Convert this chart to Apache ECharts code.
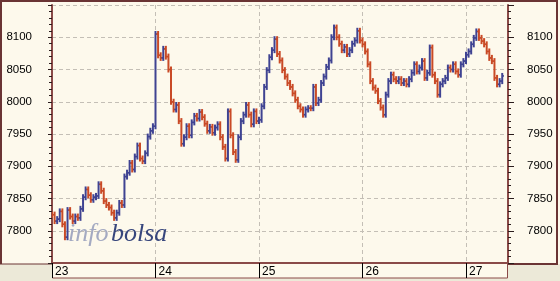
<!DOCTYPE html>
<html><head><meta charset="utf-8">
<script src="https://cdn.jsdelivr.net/npm/echarts@6/dist/echarts.min.js"></script>
<style>html,body{margin:0;padding:0;background:#ece9d8}#c{width:560px;height:281px}</style>
</head><body><div id="c"></div>
<script>
const dayLabels = ['23', '24', '25', '26', '27'];
const yTickLabels = [7800, 7850, 7900, 7950, 8000, 8050, 8100];
const samplesPerDay = 40;
const day23 = [7825,7815,7818,7830,7810,7790,7832,7822,7815,7822,7820,7834,7852,7864,7855,7848,7852,7854,7872,7862,
               7846,7840,7836,7828,7820,7828,7843,7840,7884,7890,7905,7895,7915,7932,7912,7908,7920,7946,7955,7962];
const day24 = [8105,8072,8068,8082,8070,8050,8000,7988,7995,7970,7935,7945,7962,7948,7968,7978,7974,7984,7976,7966,
               7955,7961,7952,7960,7965,7945,7930,7912,7985,7948,7922,7910,7945,7970,7980,7995,7980,7965,7985,7970];
const day25 = [7972,7993,8023,8049,8069,8080,8097,8074,8064,8049,8039,8029,8023,8013,8003,7993,7988,7980,7988,7990,
               7990,8023,7998,8003,8029,8039,8054,8064,8100,8115,8100,8090,8080,8085,8074,8080,8090,8095,8110,8095];
const day26 = [8089,8078,8058,8032,8022,8017,8001,7991,7980,8011,8032,8042,8035,8032,8035,8029,8032,8027,8035,8045,
               8058,8047,8053,8063,8037,8045,8084,8042,8032,8011,8027,8032,8037,8053,8050,8058,8047,8042,8058,8063];
const day27 = [8073,8078,8089,8099,8109,8099,8094,8089,8078,8068,8063,8037,8027,8032,8040];
const allDays = [day23, day24, day25, day26, day27];

const pts = [];
let prev = null;
allDays.forEach((arr, d) => {
  arr.forEach((v, i) => {
    const o = prev === null ? v : prev;
    pts.push([d + i / samplesPerDay, o, v]);
    prev = v;
  });
});

const brown = '#8a4a48';
const gridCol = '#c4bfb6';
const RED = '#c94a26', BLUE = '#3f4392';

const chart = echarts.init(document.getElementById('c'), null, {renderer: 'canvas'});
const yAxisBase = (pos, majorLen) => ({
  type: 'value', position: pos, min: 7750, max: 8150, interval: 50,
  axisLine: {show: true, lineStyle: {color: brown, width: 2}},
  axisTick: {show: true, inside: false, length: majorLen, lineStyle: {color: '#2a1c1c', width: 1}},
  minorTick: {show: true, splitNumber: 5, length: 3, lineStyle: {color: '#2a1c1c', width: 1}},
  axisLabel: {
    margin: pos === 'left' ? 20 : 19,
    color: '#000', fontFamily: 'Liberation Sans', fontSize: 11.5,
    formatter: v => yTickLabels.includes(v) ? String(v) : ''
  },
  splitLine: {show: pos === 'left', lineStyle: {color: gridCol, type: [4, 3], width: 1}}
});

chart.setOption({
  backgroundColor: '#fdf9ec',
  animation: false,
  grid: {left: 52, right: 52, top: 5, bottom: 18, containLabel: false},
  xAxis: {
    type: 'value', min: 0, max: 456 / 103.5, interval: 1,
    axisLine: {show: true, lineStyle: {color: brown, width: 2}},
    axisTick: {show: true, inside: false, length: 15, lineStyle: {color: '#000', width: 1}},
    axisLabel: {
      color: '#000', fontFamily: 'Liberation Sans', fontSize: 12, margin: 3,
      align: 'left', padding: [0, 0, 0, 3], showMaxLabel: false,
      formatter: v => (Number.isInteger(v) && dayLabels[v] !== undefined) ? dayLabels[v] : ''
    },
    splitLine: {show: true, lineStyle: {color: gridCol, type: [4, 3], width: 1}}
  },
  yAxis: [yAxisBase('left', 4), yAxisBase('right', 6)],
  graphic: [
    {type: 'rect', z: 0, shape: {x: 0, y: 264, width: 52, height: 17}, style: {fill: '#ece9d8'}},
    {type: 'rect', z: 0, shape: {x: 508, y: 264, width: 52, height: 17}, style: {fill: '#ece9d8'}},
    {type: 'rect', z: 0, shape: {x: 52, y: 278, width: 456, height: 3}, style: {fill: '#ece9d8'}},
    {type: 'rect', z: 0, shape: {x: 52.5, y: 263, width: 455, height: 15}, style: {fill: 'none', stroke: brown, lineWidth: 1}},
    {type: 'polyline', z: 0, shape: {points: [[1, 264], [1, 1], [557, 1], [557, 264], [508, 264]]}, style: {stroke: '#6a3434', lineWidth: 2, fill: 'none'}},
    {type: 'line', z: 0, shape: {x1: 0, y1: 264, x2: 52, y2: 264}, style: {stroke: '#6a3434', lineWidth: 1}},
    {type: 'text', z: 1, x: 68, y: 234, style: {text: 'info', fill: '#a4aac2', font: 'italic 26px "Liberation Serif"', verticalAlign: 'middle'}},
    {type: 'text', z: 1, x: 111, y: 234, style: {text: 'bolsa', fill: '#37467c', font: 'italic 26px "Liberation Serif"', verticalAlign: 'middle'}}
  ],
  series: [{
    type: 'custom', z: 5, clip: true,
    encode: {x: 0, y: [1, 2]},
    data: pts,
    renderItem: (params, api) => {
      const t = api.value(0), o = api.value(1), c = api.value(2);
      const p1 = api.coord([t, o]), p2 = api.coord([t, c]);
      const top = Math.min(p1[1], p2[1]) - 3;
      const bot = Math.max(p1[1], p2[1]) + 3;
      const col = c > o ? BLUE : RED;
      const x = p1[0];
      return {
        type: 'group',
        children: [
          {type: 'line', shape: {x1: x, y1: top, x2: x, y2: bot}, style: {stroke: col, lineWidth: 2}},
          {type: 'line', shape: {x1: x - 1.8, y1: p1[1], x2: x, y2: p1[1]}, style: {stroke: col, lineWidth: 1.5}},
          {type: 'line', shape: {x1: x, y1: p2[1], x2: x + 1.8, y2: p2[1]}, style: {stroke: col, lineWidth: 1.5}}
        ]
      };
    }
  }]
});
</script></body></html>
